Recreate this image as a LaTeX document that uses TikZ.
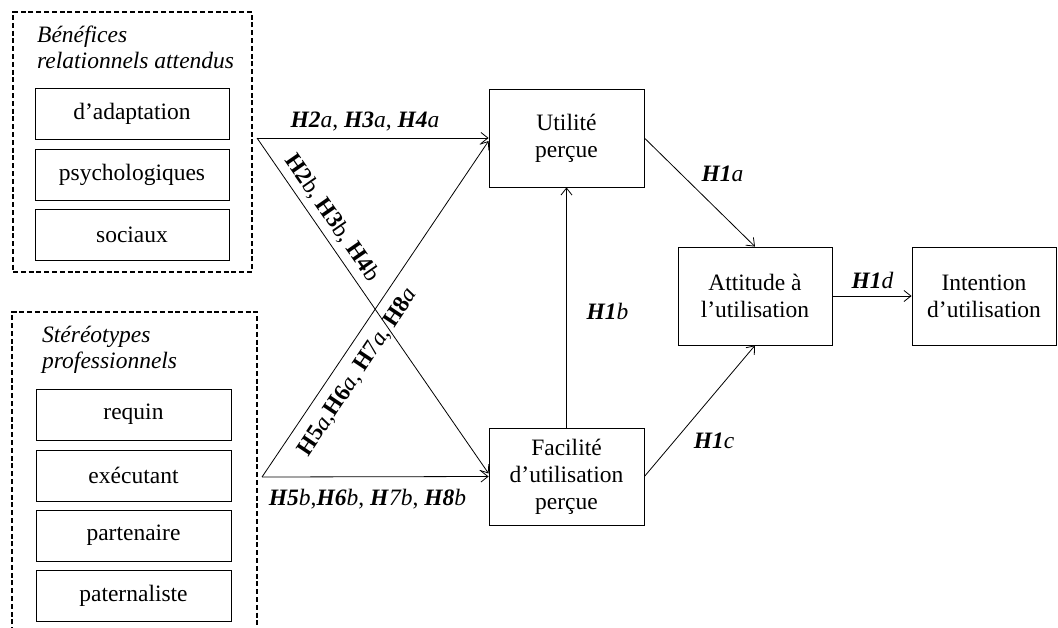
\documentclass[tikz,border=0pt]{standalone}
\usepackage{fontspec}
\setmainfont{Liberation Serif}
\usetikzlibrary{arrows.meta,calc}
\begin{document}
\begin{tikzpicture}[x=1pt,y=-1pt,
  every node/.style={font=\fontsize{23.5}{27}\selectfont},
  box/.style={draw, line width=0.8pt, inner sep=0pt, align=center},
  grp/.style={draw, line width=1.4pt, dash pattern=on 5pt off 2.8pt, inner sep=0pt},
  ttl/.style={anchor=base west, inner sep=0pt, font=\fontsize{23.5}{27}\selectfont\itshape},
  lab/.style={anchor=base, inner sep=0pt},
  conn/.style={line width=0.8pt, -{Straight Barb[length=7pt,width=11pt]}},
  link/.style={line width=0.8pt}]
\useasboundingbox (0,0) rectangle (1058,627);
% group 1
\node[grp, minimum width=239pt, minimum height=260pt] (g1) at (132.5,142) {};
\node[ttl] (g1t1) at (37,42) {Bénéfices};
\node[ttl] (g1t2) at (37,68) {relationnels attendus};
\node[box, minimum width=194pt, minimum height=51pt] (b1) at (132,113.5) {d’adaptation};
\node[box, minimum width=194pt, minimum height=51pt] (b2) at (132,174.5) {psychologiques};
\node[box, minimum width=194pt, minimum height=51pt] (b3) at (132,234.5) {sociaux};
% group 2 (cut by the page bottom)
\coordinate (g2a) at (12,640);
\coordinate (g2b) at (12,312);
\coordinate (g2c) at (257,312);
\coordinate (g2d) at (257,640);
\draw[line width=1.4pt, dash pattern=on 5pt off 2.8pt] (g2a) -- (g2b) -- (g2c) -- (g2d);
\node[ttl] (g2t1) at (42,342) {Stéréotypes};
\node[ttl] (g2t2) at (42,368) {professionnels};
\node[box, minimum width=195pt, minimum height=51pt] (s1b) at (133.5,414.5) {requin};
\node[box, minimum width=195pt, minimum height=51pt] (s2b) at (133.5,475.5) {exécutant};
\node[box, minimum width=195pt, minimum height=51pt] (s3b) at (133.5,535.5) {partenaire};
\node[box, minimum width=195pt, minimum height=51pt] (s4b) at (133.5,596) {paternaliste};
% main boxes
\node[box, minimum width=155pt, minimum height=98pt] (utl) at (566.5,138) {Utilité\\perçue};
\node[box, minimum width=155pt, minimum height=97pt] (fac) at (566.5,476.5) {Facilité\\d’utilisation\\perçue};
\node[box, minimum width=154pt, minimum height=98pt] (att) at (755,296) {Attitude à\\l’utilisation};
\node[box, minimum width=144pt, minimum height=98pt] (int) at (984,296) {Intention\\d’utilisation};
% sources
\coordinate (src1) at (257,138);
\coordinate (src2) at (262,477);
% connectors
\draw[conn] (src1) -- (utl.west);
\draw[conn] (src1) -- ($(fac.west)+(0,-3)$);
\draw[conn] (src2) -- (fac.west);
\draw[conn] (src2) -- ($(utl.west)+(0,3)$);
\draw[conn] (fac.north) -- (utl.south);
\draw[conn] (utl.east) -- (att.north);
\draw[conn] (fac.east) -- (att.south);
\draw[conn] (att.east) -- (int.west);
% labels
\node[lab] (l1) at (365,127) {\textbf{\textit{H2}}\textit{a}, \textbf{\textit{H3}}\textit{a}, \textbf{\textit{H4}}\textit{a}};
\node[lab] (l2) at (367.5,505) {\textbf{\textit{H5}}\textit{b},\textbf{\textit{H6}}\textit{b}, \textbf{\textit{H}}\textit{7b}, \textbf{\textit{H8}}\textit{b}};
\node[lab] (l3) at (722.5,181) {\textbf{\textit{H1}}\textit{a}};
\node[lab] (l4) at (607.5,319) {\textbf{\textit{H1}}\textit{b}};
\node[lab] (l5) at (714,448) {\textbf{\textit{H1}}\textit{c}};
\node[lab] (l6) at (872.5,288) {\textbf{\textit{H1}}\textit{d}};
\node[inner sep=0pt, rotate=-55.3] (l7) at (332,218) {\textbf{H2}b, \textbf{H3}b, \textbf{H4}b};
\node[inner sep=0pt, rotate=56.3] (l8) at (358,372) {\textbf{H5}\textit{a},\textbf{H6}\textit{a}, \textbf{H}7\textit{a}, \textbf{H8}\textit{a}};
\end{tikzpicture}
\end{document}
